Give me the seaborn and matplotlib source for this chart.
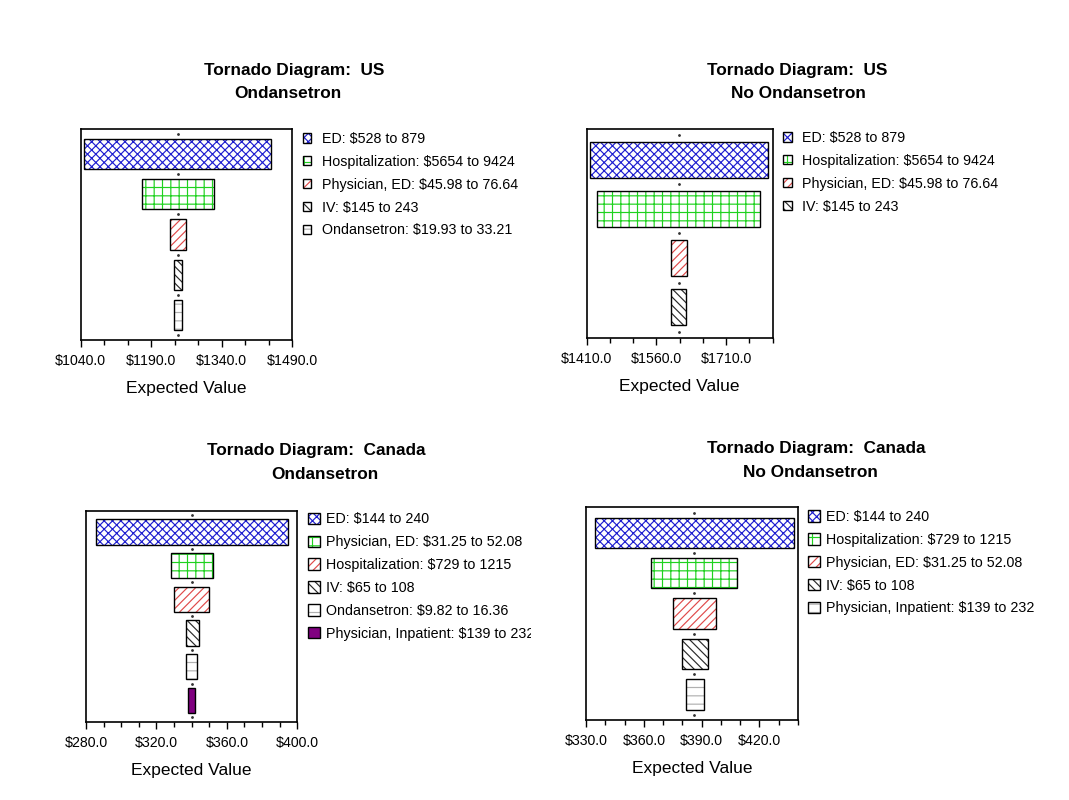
import matplotlib
matplotlib.use("Agg")
import matplotlib.pyplot as plt
import seaborn as sns
import numpy as np
from matplotlib.transforms import Bbox, TransformedBbox

# ---------------- data ----------------
us_ond_labels = ["ED: $528 to 879", "Hospitalization: $5654 to 9424",
                 "Physician, ED: $45.98 to 76.64", "IV: $145 to 243",
                 "Ondansetron: $19.93 to 33.21"]
us_ond_low = [1047, 1170, 1230, 1239, 1239]
us_ond_high = [1446, 1324, 1264, 1255, 1255]
us_ond_ev = 1247

us_no_labels = ["ED: $528 to 879", "Hospitalization: $5654 to 9424",
                "Physician, ED: $45.98 to 76.64", "IV: $145 to 243"]
us_no_low = [1417, 1433, 1591, 1591]
us_no_high = [1799, 1782, 1625, 1624]
us_no_ev = 1608

ca_ond_labels = ["ED: $144 to 240", "Physician, ED: $31.25 to 52.08",
                 "Hospitalization: $729 to 1215", "IV: $65 to 108",
                 "Ondansetron: $9.82 to 16.36", "Physician, Inpatient: $139 to 232"]
ca_ond_low = [285.7, 328.1, 330.0, 336.8, 336.8, 338.1]
ca_ond_high = [394.5, 352.0, 350.0, 344.0, 343.2, 342.1]
ca_ond_ev = 340.2

ca_no_labels = ["ED: $144 to 240", "Hospitalization: $729 to 1215",
                "Physician, ED: $31.25 to 52.08", "IV: $65 to 108",
                "Physician, Inpatient: $139 to 232"]
ca_no_low = [334.7, 363.7, 375.3, 379.8, 382.1]
ca_no_high = [438.1, 408.5, 397.6, 393.1, 391.1]
ca_no_ev = 386.2

us_ticks = [1040, 1490, 50, 150]
us_no_ticks = [1410, 1810, 50, 150]
ca_ticks = [280, 400, 10, 40]
ca_no_ticks = [330, 440, 10, 30]

title_line1 = ["Tornado Diagram:  US", "Tornado Diagram:  US",
               "Tornado Diagram:  Canada", "Tornado Diagram:  Canada"]
title_line2 = ["Ondansetron", "No Ondansetron", "Ondansetron", "No Ondansetron"]

# ---------------- style ----------------
sns.set_theme(style="white")
plt.rcParams["font.family"] = ["Liberation Sans", "DejaVu Sans"]
plt.rcParams["text.parse_math"] = False
plt.rcParams["hatch.linewidth"] = 0.85

rank_colors = ["#1f1fd0", "#1fd21f", "#e04a4a", "#2a2a2a", "#b0b0b0", "#800080"]
rank_hatch = ["xxxx", "++", "////", "\\\\\\\\", "--", None]

W, H = 1069, 800
fig = plt.figure(figsize=(W / 100, H / 100), dpi=100)
fig.patch.set_facecolor("white")


def px_rect(left, top, right, bottom):
    return [left / W, 1 - bottom / H, (right - left) / W, (bottom - top) / H]


panels = [
    dict(labels=us_ond_labels, low=us_ond_low, high=us_ond_high, ev=us_ond_ev, ticks=us_ticks,
         rect=px_rect(80.7, 129, 292, 340), leg=(302.5, 132.0), hsize=0.62, hpad=0.72,
         t1=(294, 75), t2=(288, 98), clip=None),
    dict(labels=us_no_labels, low=us_no_low, high=us_no_high, ev=us_no_ev, ticks=us_no_ticks,
         rect=px_rect(586.7, 129, 772.7, 338), leg=(782.7, 131.0), hsize=0.62, hpad=0.72,
         t1=(796.7, 75), t2=(798.3, 98), clip=None),
    dict(labels=ca_ond_labels, low=ca_ond_low, high=ca_ond_high, ev=ca_ond_ev, ticks=ca_ticks,
         rect=px_rect(86, 510.7, 297.3, 721.7), leg=(308.3, 512.3), hsize=0.85, hpad=0.42,
         t1=(316.5, 455), t2=(325, 479), clip=531),
    dict(labels=ca_no_labels, low=ca_no_low, high=ca_no_high, ev=ca_no_ev, ticks=ca_no_ticks,
         rect=px_rect(586, 507.3, 798, 720), leg=(808.3, 510.0), hsize=0.85, hpad=0.42,
         t1=(816.7, 453), t2=(810, 477), clip=None),
]

for k, p in enumerate(panels):
    ax = fig.add_axes(p["rect"])
    ax.set_facecolor("white")
    n = len(p["labels"])
    y = np.arange(n)
    low = np.array(p["low"], dtype=float)
    high = np.array(p["high"], dtype=float)
    handles = []
    for i in range(n):
        col = rank_colors[i]
        hat = rank_hatch[i]
        if hat is None:
            b1 = ax.barh(y[i], high[i] - low[i], left=low[i], height=0.75,
                         facecolor=col, edgecolor=col, linewidth=0, zorder=2)
        else:
            b1 = ax.barh(y[i], high[i] - low[i], left=low[i], height=0.75,
                         facecolor="white", edgecolor=col, hatch=hat, linewidth=0, zorder=2)
        b2 = ax.barh(y[i], high[i] - low[i], left=low[i], height=0.75,
                     fill=False, edgecolor="black", linewidth=1.0, zorder=3)
        handles.append((b1[0], b2[0]))
    # expected value dots
    ax.plot(np.full(n + 1, p["ev"]), np.arange(n + 1) - 0.5, linestyle="none",
            marker="o", markersize=1.0, color="#333333", zorder=1)

    xmin, xmax, minor, major = p["ticks"]
    ax.set_xlim(xmin, xmax)
    ax.set_ylim(n - 1 + 0.63, -0.63)
    ax.set_yticks([])
    majors = np.arange(xmin, xmax + 1e-9, major)
    ax.set_xticks(majors)
    ax.set_xticklabels([f"${v:.1f}" for v in majors])
    ax.set_xticks(np.arange(xmin, xmax + 1e-9, minor), minor=True)
    ax.tick_params(axis="x", which="major", direction="out", length=5, width=1.0,
                   color="black", labelsize=10.2, pad=5, labelcolor="black", bottom=True)
    ax.tick_params(axis="x", which="minor", direction="out", length=3.5, width=1.0,
                   color="black", bottom=True)
    for s in ax.spines.values():
        s.set_visible(True)
        s.set_color("black")
        s.set_linewidth(1.2)
    ax.set_xlabel("Expected Value", fontsize=12.5, labelpad=9.5, color="black")

    lx, ly = p["leg"]
    leg = ax.legend(handles, p["labels"], loc="upper left",
                    bbox_to_anchor=(lx / W, 1 - ly / H), bbox_transform=fig.transFigure,
                    frameon=False, borderpad=0, borderaxespad=0,
                    handlelength=p["hsize"], handleheight=p["hsize"],
                    handletextpad=p["hpad"], labelspacing=0.62, fontsize=10.3)
    for t in leg.get_texts():
        t.set_color("black")
        if p["clip"] is not None:
            t.set_clip_on(True)
            t.set_clip_box(TransformedBbox(Bbox([[0, 0], [p["clip"] / W, 1]]), fig.transFigure))

    fig.text(p["t1"][0] / W, 1 - p["t1"][1] / H, title_line1[k], ha="center", va="baseline",
             fontsize=12.4, fontweight="bold", color="black")
    fig.text(p["t2"][0] / W, 1 - p["t2"][1] / H, title_line2[k], ha="center", va="baseline",
             fontsize=12.4, fontweight="bold", color="black")

fig.savefig("out.png", dpi=100, facecolor="white")
